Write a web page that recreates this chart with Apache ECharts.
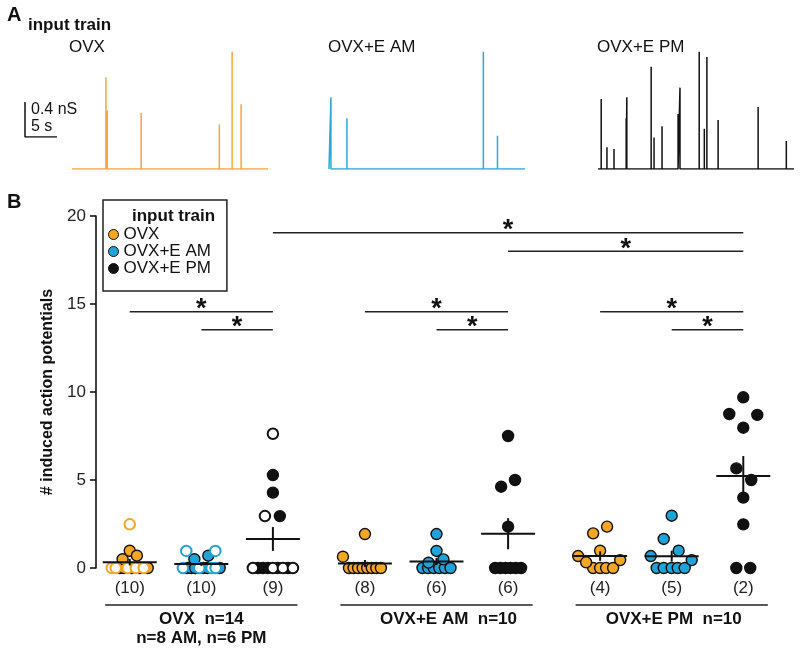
<!DOCTYPE html>
<html><head><meta charset="utf-8">
<script src="https://cdn.jsdelivr.net/npm/echarts/dist/echarts.min.js"></script>
<style>html,body{margin:0;padding:0;background:#fff}#c{width:800px;height:657px}</style>
</head><body><div id="c"></div>
<script>
// ---------------- Panel A: conductance input trains (time s, amplitude nS) ----------------
const traceEnd = 30.6;
const ovxSpikeT = [5.3, 5.5, 10.8, 23.0, 25.0, 26.4];
const ovxSpikeA = [1.05, 0.67, 0.64, 0.51, 1.34, 0.74];
const amSpikeT = [0.3, 2.8, 24.1, 26.3];
const amSpikeA = [0.82, 0.58, 1.34, 0.38];
const pmSpikeT = [0.5, 1.4, 2.5, 4.4, 4.5, 8.3, 8.75, 10.0, 12.5, 12.8, 15.8, 16.6, 17.0, 18.75, 25.0, 29.4];
const pmSpikeA = [0.80, 0.25, 0.23, 0.58, 0.82, 1.17, 0.36, 0.49, 0.63, 0.93, 1.34, 0.46, 1.28, 0.56, 0.71, 0.32];
const scaleBarT = 5;    // s
const scaleBarA = 0.4;  // nS

// ---------------- Panel B: induced action potentials ----------------
const countLabels = ['(10)', '(10)', '(9)', '(8)', '(6)', '(6)', '(4)', '(5)', '(2)'];
const groupNames = ['OVX  n=14', 'OVX+E AM  n=10', 'OVX+E PM  n=10'];
const groupSub = ['n=8 AM, n=6 PM', '', ''];
const inputNames = ['OVX', 'OVX+E AM', 'OVX+E PM'];
const yTicks = [0, 5, 10, 15, 20];

// column 0: OVX cells, OVX input (filled = AM cells, open = PM cells)
const c0Filled = [0, 0, 0, 0, 0, 0.50, 0.98, 0.70];
const c0FilledJit = [-0.98, -0.59, 0.2, 0.98, 1.76, -0.7, 0, 0.7];
const c0Open = [0, 0, 0, 0, 0, 2.48];
const c0OpenJit = [-1.76, -1.37, -0.2, 0.59, 1.37, 0];
// column 1: OVX cells, OVX+E AM input
const c1Filled = [0, 0, 0, 0, 0, 0, 0.50, 0.70];
const c1FilledJit = [-1.4, -1.0, -0.6, 0.2, 0.6, 1.8, -0.68, 0.68];
const c1Open = [0, 0, 0, 0, 0.97, 0.97];
const c1OpenJit = [-1.8, -0.2, 1.0, 1.4, -1.47, 1.37];
// column 2: OVX cells, OVX+E PM input
const c2Filled = [0, 0, 0, 0, 0, 5.28, 4.28, 2.95];
const c2FilledJit = [-1.47, -0.98, -0.49, 0.49, 1.47, 0, 0, 0.68];
const c2Open = [0, 0, 0, 0, 7.63, 2.95];
const c2OpenJit = [-1.96, 0, 0.98, 1.96, 0, -0.78];
// column 3-5: OVX+E AM cells
const c3Filled = [0, 0, 0, 0, 0, 0, 0, 0, 1.93, 0.64];
const c3FilledJit = [-1.56, -1.11, -0.67, -0.22, 0.22, 0.67, 1.11, 1.56, 0, -2.15];
const c4Filled = [0, 0, 0, 0, 0, 0, 1.93, 0.97, 0.49, 0.30];
const c4FilledJit = [-1.37, -0.82, -0.27, 0.27, 0.82, 1.37, 0, 0, 0.68, -0.78];
const c5Filled = [0, 0, 0, 0, 0, 0, 7.5, 5.0, 4.62, 2.35];
const c5FilledJit = [-1.27, -0.76, -0.25, 0.25, 0.76, 1.27, 0, 0.68, -0.68, 0];
// column 6-8: OVX+E PM cells
const c6Filled = [0, 0, 0, 0, 1.97, 2.35, 0.98, 0.68, 0.32, 0.45];
const c6FilledJit = [-0.68, 0, 0.59, 1.27, -0.68, 0.68, 0, -2.15, -1.37, 1.96];
const c7Filled = [0, 0, 0, 0, 0, 2.97, 1.65, 0.98, 0.68, 0.45];
const c7FilledJit = [-1.47, -0.78, 0, 0.59, 1.27, 0, -0.78, 0.68, -2.05, 1.96];
const c8Filled = [9.7, 8.75, 8.7, 7.97, 5.66, 5.0, 4.0, 2.48, 0, 0];
const c8FilledJit = [0, -1.37, 1.37, 0, -0.68, 0.78, 0, 0, -0.68, 0.68];

// significance comparisons: [column from, column to, height]
const sigBars = [[2, 8, 19.05], [5, 8, 18.0], [0, 2, 14.56], [1, 2, 13.54], [3, 5, 14.56], [4, 5, 13.54], [6, 8, 14.56], [7, 8, 13.54]];

// ---------------- layout / style ----------------
const colPos = [0, 7, 14, 23, 30, 37, 46, 53, 60];
const groupCenter = [7, 30, 53];
const groupTextDx = [0, 12, 2];
const FONT = '"Liberation Sans", Arial, Helvetica, sans-serif';
const ORANGE = '#F5A623', BLUE = '#1FA3D8', BLACK = '#111111';
const colColor = [ORANGE, BLUE, BLACK];
const traceColors = ['#F6A73C', '#2AA8DD', '#111111'];

const filledCols = [c0Filled, c1Filled, c2Filled, c3Filled, c4Filled, c5Filled, c6Filled, c7Filled, c8Filled];
const filledJit = [c0FilledJit, c1FilledJit, c2FilledJit, c3FilledJit, c4FilledJit, c5FilledJit, c6FilledJit, c7FilledJit, c8FilledJit];
const openCols = [c0Open, c1Open, c2Open];
const openJit = [c0OpenJit, c1OpenJit, c2OpenJit];

function traceData(ts, as) {
  const d = [[0, 0]];
  ts.forEach((t, i) => { d.push([t, 0], [t, as[i]], [t, 0]); });
  d.push([traceEnd, 0]);
  return d;
}
function pts(vals, jit, col) { return vals.map((v, i) => [colPos[col] + jit[i], v]); }

const stats = colPos.map((p, i) => {
  const all = filledCols[i].concat(openCols[i] || []);
  const n = all.length;
  const m = all.reduce((a, b) => a + b, 0) / n;
  const sd = Math.sqrt(all.reduce((a, b) => a + (b - m) * (b - m), 0) / (n - 1));
  return [p, m, sd / Math.sqrt(n)];
});

const chart = echarts.init(document.getElementById('c'), null, { renderer: 'canvas' });

const hiddenAxis = (min, max, gi) => ({ type: 'value', min, max, gridIndex: gi, show: false });

const traceGridsLeft = [72, 329, 598];
const grids = [
  { left: 96, top: 216, bottom: 89, right: 24 },
];
traceGridsLeft.forEach(l => grids.push({ left: l, top: 29, width: 196, height: 140 }));
grids.push({ left: 25, top: 102, width: 32, height: 35 });

const xAxes = [{ type: 'value', min: -3.3, max: 63.2, gridIndex: 0, show: false }];
const yAxes = [{
  type: 'value', min: 0, max: 20, interval: 5, gridIndex: 0, position: 'left',
  name: '# induced action potentials', nameLocation: 'middle', nameGap: 40,
  nameTextStyle: { fontFamily: FONT, fontSize: 16, fontWeight: 'bold', color: '#111' },
  axisLine: { show: true, onZero: false, lineStyle: { color: '#111', width: 1.6 } },
  axisTick: { show: true, length: 6, lineStyle: { color: '#111', width: 1.6 } },
  axisLabel: { fontFamily: FONT, fontSize: 17, color: '#222', margin: 10 },
  splitLine: { show: false }
}];
for (let g = 1; g <= 3; g++) { xAxes.push(hiddenAxis(0, traceEnd, g)); yAxes.push(hiddenAxis(0, 1.6, g)); }
xAxes.push(hiddenAxis(0, scaleBarT, 4)); yAxes.push(hiddenAxis(0, scaleBarA, 4));

const series = [];
// Panel A traces
[[ovxSpikeT, ovxSpikeA], [amSpikeT, amSpikeA], [pmSpikeT, pmSpikeA]].forEach((tr, i) => {
  series.push({
    type: 'line', xAxisIndex: i + 1, yAxisIndex: i + 1, data: traceData(tr[0], tr[1]),
    showSymbol: false, symbol: 'none', lineStyle: { color: traceColors[i], width: 1.5, join: 'bevel' }, silent: true
  });
});
// scale bar
series.push({
  type: 'line', xAxisIndex: 4, yAxisIndex: 4, data: [[0, scaleBarA], [0, 0], [scaleBarT, 0]],
  showSymbol: false, symbol: 'none', lineStyle: { color: '#111', width: 1.5 }, silent: true
});

// Panel B filled dots, one series per input train
inputNames.forEach((name, k) => {
  let data = [];
  for (let c = k; c < 9; c += 3) data = data.concat(pts(filledCols[c], filledJit[c], c));
  series.push({
    type: 'scatter', name, data, symbol: 'circle', symbolSize: 11, clip: false, z: 3,
    itemStyle: { color: colColor[k], borderColor: '#111', borderWidth: 1.4, opacity: 1 }
  });
});
// open dots (PM cells of OVX group)
openCols.forEach((vals, k) => {
  series.push({
    type: 'scatter', name: inputNames[k] + ' (PM cells)', data: pts(vals, openJit[k], k),
    symbol: 'circle', symbolSize: 10.5, clip: false, z: 4,
    itemStyle: { color: '#fff', borderColor: colColor[k], borderWidth: 2, opacity: 1 }
  });
});

// mean ± SEM
const MEAN_HALF = 2.64;
series.push({
  type: 'custom', data: stats, z: 6, silent: true,
  renderItem(params, api) {
    const x = api.value(0), m = api.value(1), s = api.value(2);
    const a = api.coord([x - MEAN_HALF, m]), b = api.coord([x + MEAN_HALF, m]);
    const t = api.coord([x, m + s]), u = api.coord([x, m - s]);
    return { type: 'group', children: [
      { type: 'line', shape: { x1: a[0], y1: a[1], x2: b[0], y2: b[1] }, style: { stroke: '#111', lineWidth: 2 } },
      { type: 'line', shape: { x1: t[0], y1: t[1], x2: u[0], y2: u[1] }, style: { stroke: '#111', lineWidth: 2 } }
    ] };
  }
});

// significance bars
series.push({
  type: 'custom', data: sigBars.map(s => [colPos[s[0]], colPos[s[1]], s[2]]), z: 6, silent: true,
  encode: { x: [0, 1], y: 2 },
  renderItem(params, api) {
    const a = api.coord([api.value(0), api.value(2)]), b = api.coord([api.value(1), api.value(2)]);
    return { type: 'group', children: [
      { type: 'line', shape: { x1: a[0], y1: a[1], x2: b[0], y2: b[1] }, style: { stroke: '#222', lineWidth: 1.6 } },
      { type: 'text', x: (a[0] + b[0]) / 2, y: a[1] - 2, style: { text: '*', fill: '#111', font: 'bold 27px ' + FONT, align: 'center', verticalAlign: 'middle' } }
    ] };
  }
});

// count labels under columns
series.push({
  type: 'custom', data: colPos.map(p => [p, 0]), z: 6, silent: true,
  renderItem(params, api) {
    const c = api.coord([api.value(0), 0]);
    return { type: 'text', x: c[0], y: c[1] + 20, style: { text: countLabels[params.dataIndex], fill: '#222', font: '17px ' + FONT, align: 'center', verticalAlign: 'middle' } };
  }
});

// group brackets and names
const BRACKET_HALF = 9.4;
series.push({
  type: 'custom', data: groupCenter.map(p => [p, 0]), z: 6, silent: true,
  renderItem(params, api) {
    const i = params.dataIndex, p = api.value(0);
    const a = api.coord([p - BRACKET_HALF, 0]), b = api.coord([p + BRACKET_HALF, 0]);
    const y0 = a[1];
    const cx = (a[0] + b[0]) / 2 + groupTextDx[i];
    const ch = [
      { type: 'line', shape: { x1: a[0], y1: y0 + 37, x2: b[0], y2: y0 + 37 }, style: { stroke: '#222', lineWidth: 1.6 } },
      { type: 'text', x: cx, y: y0 + 51, style: { text: groupNames[i], fill: '#111', font: 'bold 17px ' + FONT, align: 'center', verticalAlign: 'middle' } }
    ];
    if (groupSub[i]) ch.push({ type: 'text', x: cx, y: y0 + 70, style: { text: groupSub[i], fill: '#111', font: 'bold 17px ' + FONT, align: 'center', verticalAlign: 'middle' } });
    return { type: 'group', children: ch };
  }
});

const txt = (text, x, y, font, align) => ({ type: 'text', x, y, silent: true, style: { text, font: font + ' ' + FONT, fill: '#111', align: align || 'left', verticalAlign: 'middle' } });

chart.setOption({
  animation: false,
  backgroundColor: '#fff',
  grid: grids,
  xAxis: xAxes,
  yAxis: yAxes,
  legend: {
    data: inputNames, orient: 'vertical', left: 103, top: 200,
    padding: [26, 16, 14, 5], itemGap: 0, itemWidth: 10, itemHeight: 10, icon: 'circle',
    borderColor: '#222', borderWidth: 1.5, selectedMode: false,
    itemStyle: { borderColor: '#111', borderWidth: 1 },
    textStyle: { fontFamily: FONT, fontSize: 17, color: '#111', lineHeight: 16 }
  },
  graphic: [
    txt('A', 7, 15, 'bold 20px'),
    txt('input train', 28, 25, 'bold 17px'),
    txt('OVX', 69, 47, '17px'),
    txt('OVX+E AM', 328, 47, '17px'),
    txt('OVX+E PM', 597, 47, '17px'),
    txt('0.4 nS', 31, 110, '16px'),
    txt('5 s', 31, 127, '16px'),
    txt('B', 7, 202, 'bold 20px'),
    txt('input train', 132, 216, 'bold 17px')
  ],
  series
});
</script></body></html>
